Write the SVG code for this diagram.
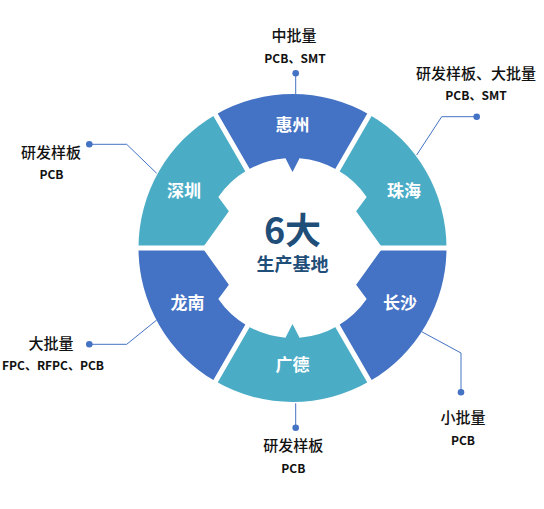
<svg xmlns="http://www.w3.org/2000/svg" width="544" height="509" viewBox="0 0 544 509">
<style>
.blue{fill:#4472C4}
.teal{fill:#4BACC6}
.seg{font-family:"Noto Sans CJK SC","Noto Sans",sans-serif;font-weight:bold;font-size:17px;fill:#fff;text-anchor:middle}
.lbl{font-family:"Noto Sans CJK SC","Noto Sans",sans-serif;font-weight:500;font-size:15px;fill:#111;text-anchor:middle}
.sub{font-family:"Noto Sans CJK SC","Noto Sans",sans-serif;font-weight:bold;font-size:12px;fill:#111;text-anchor:middle}
.ctr{font-family:"Noto Sans CJK SC","Noto Sans",sans-serif;font-weight:bold;fill:#1F4E79;text-anchor:middle}
.gap{stroke:#fff;stroke-width:5;fill:none}
.con{stroke:#4472C4;stroke-width:1;fill:none}
.dot{fill:#4472C4}
</style>
<rect width="544" height="509" fill="#fff"/>
<g id="huizhou">
<path class="blue" d="M215.5,114.63 A154,154 0 0 1 369.5,114.63 L337.5,170.06 A90,90 0 0 0 299.56,158.28 L292.5,172 L285.44,158.28 A90,90 0 0 0 247.5,170.06 Z"/>
<text class="seg" x="292.5" y="130.5">惠州</text>
</g>
<g id="zhuhai">
<path class="teal" d="M369.5,114.63 A154,154 0 0 1 446.5,248 L382.5,248 L356.15,211.25 L366.67,197.02 A90,90 0 0 0 337.5,170.06 Z"/>
<text class="seg" x="404" y="197">珠海</text>
</g>
<g id="changsha">
<path class="blue" d="M446.5,248 A154,154 0 0 1 369.5,381.37 L337.5,325.94 A90,90 0 0 0 366.67,298.98 L356.15,284.75 L382.5,248 Z"/>
<text class="seg" x="400" y="309">长沙</text>
</g>
<g id="guangde">
<path class="teal" d="M369.5,381.37 A154,154 0 0 1 215.5,381.37 L247.5,325.94 A90,90 0 0 0 285.44,337.72 L292.5,324 L299.56,337.72 A90,90 0 0 0 337.5,325.94 Z"/>
<text class="seg" x="292.5" y="370.5">广德</text>
</g>
<g id="longnan">
<path class="blue" d="M215.5,381.37 A154,154 0 0 1 138.5,248 L202.5,248 L228.85,284.75 L218.33,298.98 A90,90 0 0 0 247.5,325.94 Z"/>
<text class="seg" x="187.5" y="309">龙南</text>
</g>
<g id="shenzhen">
<path class="teal" d="M138.5,248 A154,154 0 0 1 215.5,114.63 L247.5,170.06 A90,90 0 0 0 218.33,197.02 L228.85,211.25 L202.5,248 Z"/>
<text class="seg" x="184" y="197">深圳</text>
</g>
<g id="gaps">
<path class="gap" d="M372.5,248 H452.5 M332.5,317.3 L372.5,386.6 M252.5,317.3 L212.5,386.6 M212.5,248 H132.5 M252.5,178.7 L212.5,109.4 M332.5,178.7 L372.5,109.4"/>
</g>
<g id="center">
<text class="ctr" x="292.5" y="244" font-size="36">6大</text>
<text class="ctr" x="292.5" y="271" font-size="18">生产基地</text>
</g>
<g id="connectors">
<path class="con" d="M295.7,94 V73.3"/>
<circle class="dot" cx="295.7" cy="73.3" r="3.3"/>
<path class="con" d="M476.7,116.7 H441.7 L416.7,155"/>
<circle class="dot" cx="476.7" cy="116.7" r="3.3"/>
<path class="con" d="M89.3,144.3 H126.7 L156.7,173.3"/>
<circle class="dot" cx="89.3" cy="144.3" r="3.3"/>
<path class="con" d="M89.3,344.3 H126.7 L156.7,320"/>
<circle class="dot" cx="89.3" cy="344.3" r="3.3"/>
<path class="con" d="M295.7,403.3 V427.7"/>
<circle class="dot" cx="295.7" cy="427.7" r="3.3"/>
<path class="con" d="M421.7,331.7 L461,353 V392.3"/>
<circle class="dot" cx="461" cy="392.3" r="3.3"/>
</g>
<g id="label-huizhou">
<text class="lbl" x="294" y="40.5">中批量</text>
<text class="sub" x="295" y="63">PCB、SMT</text>
</g>
<g id="label-zhuhai">
<text class="lbl" x="476" y="79">研发样板、大批量</text>
<text class="sub" x="476" y="99.5">PCB、SMT</text>
</g>
<g id="label-shenzhen">
<text class="lbl" x="51" y="158">研发样板</text>
<text class="sub" x="51.5" y="178.5">PCB</text>
</g>
<g id="label-longnan">
<text class="lbl" x="51" y="349">大批量</text>
<text class="sub" x="53" y="369.5">FPC、RFPC、PCB</text>
</g>
<g id="label-guangde">
<text class="lbl" x="293.3" y="451">研发样板</text>
<text class="sub" x="293.3" y="473">PCB</text>
</g>
<g id="label-changsha">
<text class="lbl" x="463" y="422.5">小批量</text>
<text class="sub" x="463" y="445">PCB</text>
</g>
</svg>
